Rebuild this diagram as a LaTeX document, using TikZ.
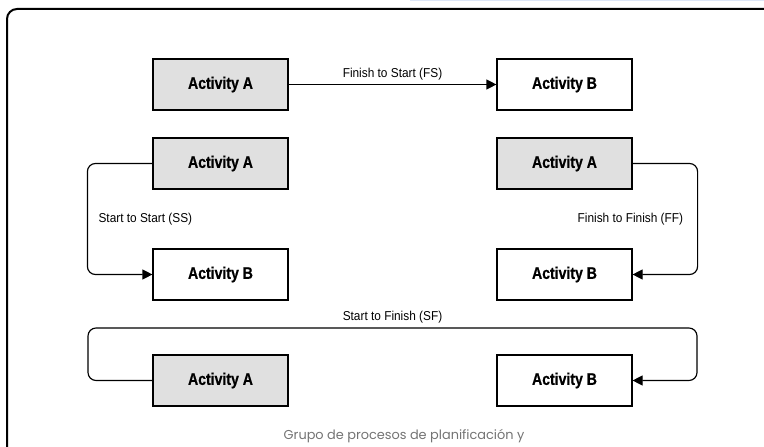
\documentclass[tikz,border=0pt]{standalone}
\usepackage{fontspec}
\usetikzlibrary{arrows.meta}
\newfontfamily\actfont[FakeStretch=0.84,FakeBold=0.6]{Liberation Sans}
\newfontfamily\lblfont[FakeStretch=0.92]{Liberation Sans}
\newfontfamily\capfont{Poppins}
\definecolor{actgray}{HTML}{E0E0E0}
\definecolor{capgray}{HTML}{737373}
\definecolor{bandblue}{HTML}{DDE6F7}

\begin{document}
\begin{tikzpicture}[x=0.3mm, y=-0.3mm,
		act/.style={draw, line width=1pt, minimum width=40.5mm, minimum height=15.3mm, font=\actfont\bfseries\fontsize{14.3}{16}\selectfont},
		first/.style={act, fill=actgray},
		link/.style={line width=1pt, -{Triangle[length=3mm,width=3mm]}, rounded corners=2.4mm},
		lbl/.style={font=\lblfont\fontsize{11}{13}\selectfont}]
		\useasboundingbox (0,0) rectangle (764,447);
		% frame and band
		\fill [bandblue] (410,-3) rectangle (764,1.5);
		\draw [line width=0.6mm, rounded corners=3mm] (7,470) -- (7,9) -- (790,9);

		% finish to start
		\node [first] (fsa) at (220.5,84.5) {Activity A};
		\node [act] (fsb) at (564.5,84.5) {Activity B};
		\draw [link] (fsa) -- (fsb) node[midway, above, lbl] {Finish to Start (FS)};

		% start to start
		\node [first] (ssa) at (220.5,163.5) {Activity A};
		\node [act] (ssb) at (220.5,274.5) {Activity B};
		\draw [link] (ssa.west) --++(-65,0) |- (ssb.west) node[pos=0.25, right=2mm, lbl] {Start to Start (SS)};

		% finish to finish
		\node [first] (ffa) at (564.5,163.5) {Activity A};
		\node [act] (ffb) at (564.5,274.5) {Activity B};
		\draw [link] (ffa.east) --++(65,0) |- (ffb.east) node[pos=0.25, left=3mm, lbl] {Finish to Finish (FF)};

		% start to finish
		\node [first] (sfa) at (220.5,380.5) {Activity A};
		\node [act] (sfb) at (564.5,380.5) {Activity B};
		\coordinate (sfl) at (88,328);
		\coordinate (sfr) at (697,328);
		\draw [link] (sfa.west) -| (sfl) -- (sfr) node[midway, above, lbl] {Start to Finish (SF)} |- (sfb.east);

		\node [font=\capfont\fontsize{11}{13}\selectfont, text=capgray] (cap) at (404,436) {Grupo de procesos de planificación y};
	\end{tikzpicture}
\end{document}
